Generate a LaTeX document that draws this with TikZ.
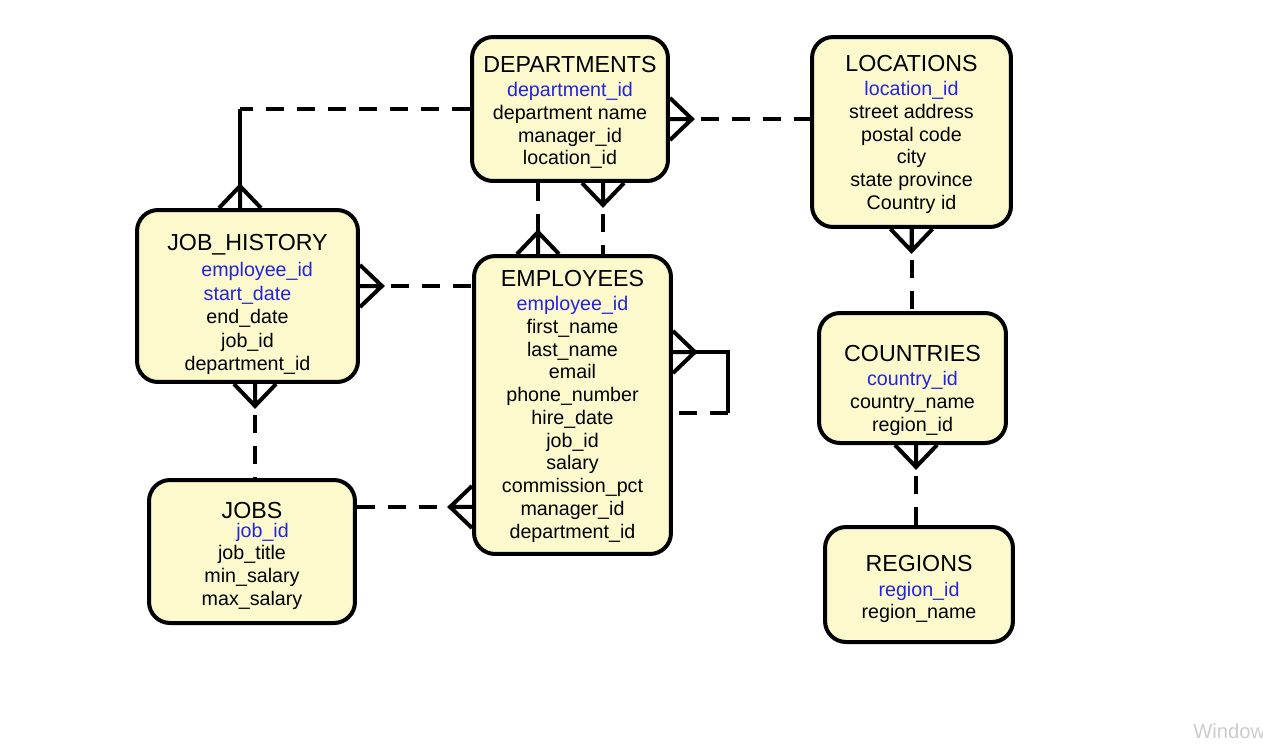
\documentclass[tikz,border=0pt]{standalone}
\usepackage{fontspec}
\setmainfont{Liberation Sans}

\definecolor{tabfill}{RGB}{252,250,205}
\definecolor{keyblue}{RGB}{35,35,225}
\newcommand{\pk}[1]{\textcolor{keyblue}{#1}}
\newcommand{\ttl}[2][0pt]{{\fontsize{13.2}{15}\selectfont\rule{0pt}{#1}#2}}

\tikzset{
	tablebox/.style={draw, line width=0.08cm, rounded corners=0.42cm, fill=tabfill,
		align=center, inner sep=0pt, font=\fontsize{11.2}{12.95}\selectfont},
	rel/.style={line width=0.08cm, dash pattern=on 0.36cm off 0.26cm},
	link/.style={line width=0.08cm},
	crowfoot/.pic={\draw[line width=0.08cm] (0,-21) -- (22,0) -- (0,21) (0,0) -- (22,0);}
}

\begin{document}
\begin{tikzpicture}[x=0.02cm, y=-0.02cm]
		\useasboundingbox (0,0) rectangle (1263,745);
		% tables
		\node[tablebox, minimum width=3.92cm, minimum height=2.88cm] (dept) at (570,109)
			{\ttl[13pt]{DEPARTMENTS}\\[1pt] \pk{department\_id}\\ department name\\ manager\_id\\ location\_id};
		\node[tablebox, minimum width=3.98cm, minimum height=3.8cm] (loc) at (911.5,132)
			{\ttl[11.8pt]{LOCATIONS}\\[1pt] \pk{location\_id}\\ street address\\ postal code\\ city\\ state province\\ Country id};
		\node[tablebox, minimum width=4.42cm, minimum height=3.44cm] (jh) at (247.5,296)
			{\ttl[19pt]{JOB\_HISTORY}\\[2pt] \hspace*{11pt}\pk{employee\_id}\\[0.4pt] \pk{start\_date}\\[0.4pt] end\_date\\[0.4pt] job\_id\\[0.4pt] department\_id};
		\node[tablebox, minimum width=3.94cm, minimum height=5.96cm] (emp) at (572.5,405)
			{\ttl[10.5pt]{EMPLOYEES}\\[1pt] \pk{employee\_id}\\ first\_name\\ last\_name\\ email\\ phone\_number\\ hire\_date\\ job\_id\\ salary\\ commission\_pct\\ manager\_id\\ department\_id};
		\node[tablebox, minimum width=3.74cm, minimum height=2.6cm] (cty) at (912.5,378)
			{\ttl[23pt]{COUNTRIES}\\[1pt] \pk{country\_id}\\ country\_name\\ region\_id};
		\node[tablebox, minimum width=4.12cm, minimum height=2.86cm] (jobs) at (252,551.5)
			{\ttl[14pt]{JOBS}\\[-2.3pt] \hspace*{12pt}\pk{job\_id}\\ job\_title\\ min\_salary\\ max\_salary};
		\node[tablebox, minimum width=3.76cm, minimum height=2.3cm] (reg) at (919,584.5)
			{\ttl[14.5pt]{REGIONS}\\[1pt] \pk{region\_id}\\ region\_name};

		% relationships
		\draw[rel] ([yshift=-0.2cm]dept.east) -- ([yshift=-0.2cm]dept.east -| loc.west);
		\pic at ([yshift=-0.2cm]dept.east) {crowfoot};

		\draw[rel] (dept.west) -- ([xshift=-0.15cm]dept.west -| jh.north) coordinate (jhbend);
		\draw[link] (jhbend) -- ([xshift=-0.15cm]jh.north);
		\pic[rotate=90] at ([xshift=-0.15cm]jh.north) {crowfoot};

		\draw[rel] ([xshift=-0.69cm]emp.north |- dept.south) -- ([xshift=-0.69cm]emp.north);
		\pic[rotate=90] at ([xshift=-0.69cm]emp.north) {crowfoot};

		\draw[rel] ([xshift=0.61cm]emp.north |- dept.south) -- ([xshift=0.61cm]emp.north);
		\pic[rotate=-90] at ([xshift=0.61cm]emp.north |- dept.south) {crowfoot};

		\draw[rel] ([yshift=0.2cm]jh.east) -- ([yshift=0.2cm]jh.east -| emp.west);
		\pic at ([yshift=0.2cm]jh.east) {crowfoot};

		\draw[link] ([yshift=1.06cm]emp.east) -- ([xshift=1.1cm,yshift=1.06cm]emp.east)
			-- ([xshift=1.1cm,yshift=-0.16cm]emp.east) coordinate (selfbend);
		\draw[rel] (selfbend) -- ([yshift=-0.16cm]emp.east);
		\pic at ([yshift=1.06cm]emp.east) {crowfoot};

		\draw[rel] ([yshift=-2.04cm]emp.west -| jobs.east) -- ([yshift=-2.04cm]emp.west);
		\pic[rotate=180] at ([yshift=-2.04cm]emp.west) {crowfoot};

		\draw[rel] ([xshift=0.15cm]jh.south) -- ([xshift=0.15cm]jh.south |- jobs.north);
		\pic[rotate=-90] at ([xshift=0.15cm]jh.south) {crowfoot};

		\draw[rel] (loc.south) -- (loc.south |- cty.north);
		\pic[rotate=-90] at (loc.south) {crowfoot};

		\draw[rel] ([xshift=0.07cm]cty.south) -- ([xshift=0.07cm]cty.south |- reg.north);
		\pic[rotate=-90] at ([xshift=0.07cm]cty.south) {crowfoot};

		% screen watermark
		\node[text=gray!40, font=\fontsize{11.5}{12}\selectfont, anchor=base west, inner sep=0pt] (wm) at (1193,738) {Window};
\end{tikzpicture}
\end{document}
